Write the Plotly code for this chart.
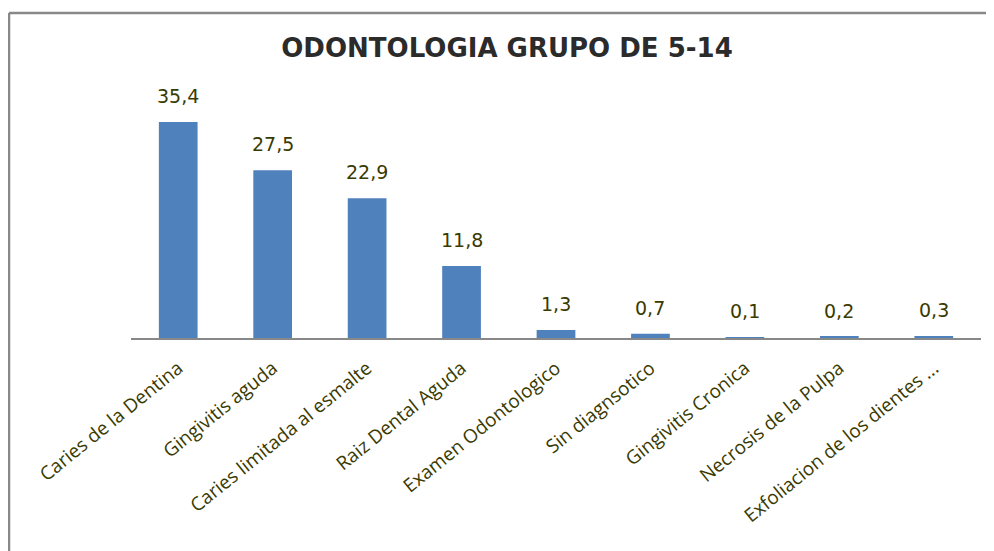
import plotly.graph_objects as go

categories = ["Caries de la Dentina", "Gingivitis aguda", "Caries limitada al esmalte",
              "Raiz Dental Aguda", "Examen Odontologico", "Sin diagnsotico",
              "Gingivitis Cronica", "Necrosis de la Pulpa", "Exfoliacion de los dientes ..."]
values = [35.4, 27.5, 22.9, 11.8, 1.3, 0.7, 0.1, 0.2, 0.3]
value_labels = ["35,4", "27,5", "22,9", "11,8", "1,3", "0,7", "0,1", "0,2", "0,3"]
title_text = "ODONTOLOGIA GRUPO DE 5-14"

# page body has an 8px margin; work in figure coordinates
W, H = 986, 543
L, R, T, B = 123, 13, 86, 213
pw = W - L - R
ph = H - T - B

label_color = "#3A3A00"

fig = go.Figure(go.Bar(
    x=categories, y=values,
    marker=dict(color="#4F81BD", line=dict(width=0)),
    width=0.41,
    hoverinfo="x+y",
))

for c, v, t in zip(categories, values, value_labels):
    fig.add_annotation(x=c, y=v, text=t, showarrow=False, yanchor="bottom", yshift=13,
                       font=dict(family="DejaVu Sans, sans-serif", size=19, color=label_color))

fig.update_layout(
    width=W, height=H,
    margin=dict(l=L, r=R, t=T, b=B, autoexpand=False),
    paper_bgcolor="white", plot_bgcolor="white",
    showlegend=False,
    title=dict(text="<b>" + title_text + "</b>", x=(507 - 8 - L) / pw, xref="paper", xanchor="center",
               y=1 - 40 / H, yanchor="middle",
               font=dict(family="DejaVu Sans, sans-serif", size=26, color="#2B2B2B")),
    xaxis=dict(showgrid=False, showline=True, linecolor="#888888", linewidth=1.5,
               tickangle=-39, ticks="", ticklabelstandoff=10,
               tickfont=dict(family="Open Sans, DejaVu Sans, sans-serif", size=19, color=label_color)),
    yaxis=dict(visible=False, range=[0, 40]),
    shapes=[
        dict(type="line", xref="paper", yref="paper",
             x0=(1 - L) / pw, x1=(W + 5 - L) / pw, y0=(H - B - 5) / ph, y1=(H - B - 5) / ph,
             line=dict(color="#888888", width=2.5)),
        dict(type="line", xref="paper", yref="paper",
             x0=(1 - L) / pw, x1=(1 - L) / pw, y0=(H - B - 5) / ph, y1=(H - B - 560) / ph,
             line=dict(color="#888888", width=2.5)),
    ],
)

fig.write_html("out.html")
